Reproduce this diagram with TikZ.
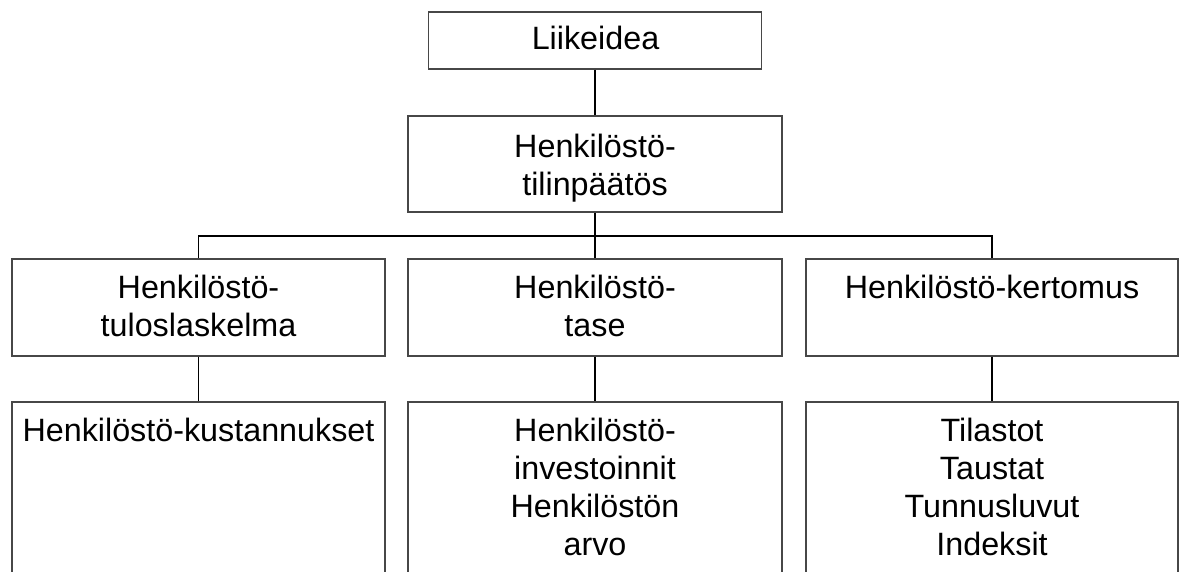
\documentclass[tikz,border=0pt]{standalone}
\usepackage{fontspec}
\setmainfont{Liberation Sans}
\begin{document}
\begin{tikzpicture}[x=1pt,y=-1pt,
  box/.style={draw=black!72,line width=1.2pt,inner sep=0pt,rectangle},
  txt/.style={anchor=base,align=center,inner sep=0pt,font=\fontsize{32.3}{38}\selectfont},
  con/.style={draw=black,line width=1.7pt}]
\useasboundingbox (0,0) rectangle (1183,572);
\clip (0,0) rectangle (1183,572);
% boxes
\node[box,minimum width=333,minimum height=57] (top) at (595,40.5) {};
\node[box,minimum width=374,minimum height=96] (mid) at (595,164) {};
\node[box,minimum width=373,minimum height=97] (la) at (198.5,307.5) {};
\node[box,minimum width=374,minimum height=97] (lb) at (595,307.5) {};
\node[box,minimum width=372,minimum height=97] (lc) at (992,307.5) {};
\node[box,minimum width=373,minimum height=220] (ba) at (198.5,512) {};
\node[box,minimum width=374,minimum height=220] (bb) at (595,512) {};
\node[box,minimum width=372,minimum height=220] (bc) at (992,512) {};
% texts (base anchor = last line's baseline)
\node[txt] (ttop) at (595.5,50) {Liikeidea};
\node[txt] (tmid) at (595,196) {Henkilöstö-\\tilinpäätös};
\node[txt] (tla) at (198.5,336) {Henkilöstö-\\tuloslaskelma};
\node[txt] (tlb) at (595,336) {Henkilöstö-\\tase};
\node[txt] (tlc) at (992,298) {Henkilöstö-kertomus};
\node[txt] (tba) at (198.5,441) {Henkilöstö-kustannukset};
\node[txt] (tbb) at (595,555) {Henkilöstö-\\investoinnit\\Henkilöstön\\arvo};
\node[txt] (tbc) at (992,555) {Tilastot\\Taustat\\Tunnusluvut\\Indeksit};
% connectors
\coordinate (bar) at (595,236);
\draw[con] (top.south) -- (mid.north);
\draw[con] (mid.south) -- (bar);
\draw[con] (la.north) |- (bar) -| (lc.north);
\draw[con] (bar) -- (lb.north);
\draw[con] (la.south) -- (ba.north);
\draw[con] (lb.south) -- (bb.north);
\draw[con] (lc.south) -- (bc.north);
\end{tikzpicture}
\end{document}
